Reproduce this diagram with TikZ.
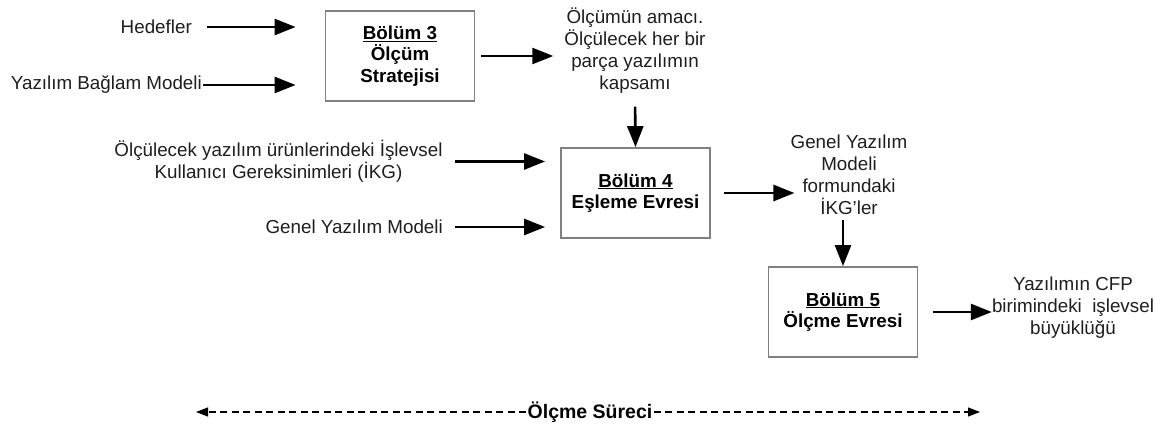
\documentclass[tikz,border=0pt]{standalone}
\usepackage{fontspec}
\setmainfont{Liberation Sans}
\usetikzlibrary{arrows.meta}
\definecolor{txt}{HTML}{1E1E1E}
\definecolor{boxgray}{HTML}{808080}
\begin{document}
\begin{tikzpicture}[x=1pt,y=-1pt,
  lbl/.style={inner sep=0pt, align=center, text=txt, font=\fontsize{18.8}{22}\selectfont},
  stage/.style={draw=boxgray, line width=1.8pt, minimum width=149pt, minimum height=90pt,
    align=center, inner sep=0pt, text=black, font=\fontsize{18.8}{21.5}\selectfont\bfseries},
  flow/.style={line width=2.6pt, draw=black, -{Triangle[length=21pt,width=16pt]}},
  span/.style={line width=1.2pt, draw=black, dash pattern=on 7pt off 4.5pt,
    -{Triangle[length=12pt,width=9pt]}}
]
\useasboundingbox (0,0) rectangle (1163,428);

% process stages
\node[stage] (b3) at (400,56) {\underline{Bölüm 3}\\Ölçüm\\Stratejisi};
\node[stage] (b4) at (635.5,193) {\underline{Bölüm 4}\\Eşleme Evresi};
\node[stage] (b5) at (843,312) {\underline{Bölüm 5}\\Ölçme Evresi};

% inputs and outputs
\node[lbl, anchor=east] (hed) at (192,27) {Hedefler};
\node[lbl, anchor=east] (ybm) at (202,85) {Yazılım Bağlam Modeli};
\node[lbl] (goal) at (635,51) {Ölçümün amacı.\\Ölçülecek her bir\\parça yazılımın\\kapsamı};
\node[lbl] (fur) at (278.5,161.5) {Ölçülecek yazılım ürünlerindeki İşlevsel\\Kullanıcı Gereksinimleri (İKG)};
\node[lbl, anchor=east] (gym) at (443,227) {Genel Yazılım Modeli};
\node[lbl] (gymf) at (849,175) {Genel Yazılım\\Modeli\\formundaki\\İKG’ler};
\node[lbl] (out) at (1073,308) {Yazılımın CFP\\birimindeki\ \ işlevsel\\büyüklüğü};

% flows
\draw[flow, shorten <=15pt, shorten >=29pt] (hed.east) -- (hed.east -| b3.west);
\draw[flow, shorten <=1pt, shorten >=29pt] (ybm.east) -- (ybm.east -| b3.west);
\draw[flow, shorten <=6pt, shorten >=11pt] (b3.east) -- (b3.east -| goal.west);
\draw[flow, shorten <=12.5pt] (goal.south) -- (b4.north);
\draw[flow, shorten <=12.5pt, shorten >=15pt] (fur.east) -- (fur.east -| b4.west);
\draw[flow, shorten <=12pt, shorten >=15pt] (gym.east) -- (gym.east -| b4.west);
\draw[flow, shorten <=13pt, shorten >=-4pt] (b4.east) -- (b4.east -| gymf.west);
\draw[flow, shorten <=5pt] (gymf.south -| b5.north) -- (b5.north);
\draw[flow, shorten <=14.5pt] (b5.east) -- (b5.east -| out.west);

% overall process span
\node[inner sep=1pt, text=black, font=\fontsize{19.5}{22}\selectfont\bfseries] (proc) at (590,412) {Ölçme Süreci};
\coordinate (pl) at (196,412);
\coordinate (pr) at (980,412);
\draw[span] (proc.west) -- (pl);
\draw[span] (proc.east) -- (pr);
\end{tikzpicture}
\end{document}
